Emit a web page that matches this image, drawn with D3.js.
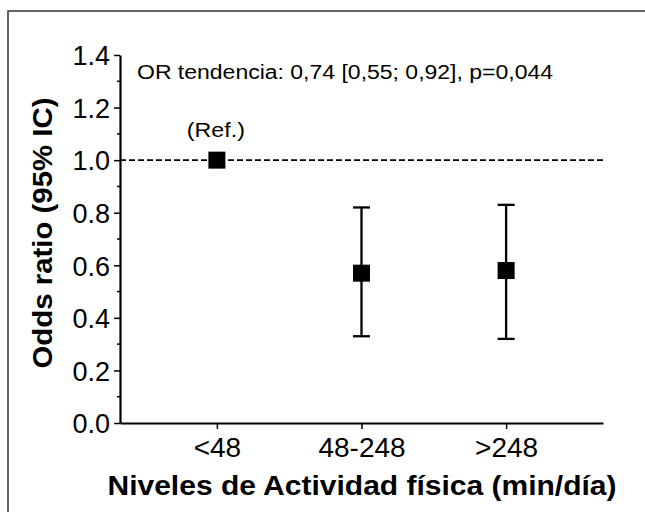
<!DOCTYPE html>
<html>
<head>
<meta charset="utf-8">
<script src="https://cdn.jsdelivr.net/npm/d3@7"></script>
<style>
  body { margin: 0; background: #fff; }
  text { font-family: "Liberation Sans", Arial, sans-serif; fill: #000; }
</style>
</head>
<body>
<div id="chart"></div>
<script>
// data
var categories = ["<48", "48-248", ">248"];
var oddsRatio  = [1.00, 0.57, 0.58];
var ciLow      = [null, 0.33, 0.32];
var ciHigh     = [null, 0.82, 0.83];
var yTicks     = [0.0, 0.2, 0.4, 0.6, 0.8, 1.0, 1.2, 1.4];
var refLabel   = "(Ref.)";
var trendNote  = "OR tendencia: 0,74 [0,55; 0,92], p=0,044";

var W = 645, H = 512;
var margin = {top: 55, right: 42, bottom: 89, left: 120};

var svg = d3.select("#chart").append("svg")
  .attr("width", W).attr("height", H);

// outer frame (runs off the right and bottom edge)
svg.append("rect")
  .attr("x", 8).attr("y", 11)
  .attr("width", W).attr("height", H)
  .attr("fill", "none").attr("stroke", "#333").attr("stroke-width", 1.5);

var x = d3.scalePoint().domain(categories)
  .range([margin.left, W - margin.right]).padding(0.67);
var y = d3.scaleLinear().domain([0, 1.4])
  .range([H - margin.bottom, margin.top]);

var g = svg.append("g");

// minor ticks on y
g.selectAll(".minor").data(d3.range(0.1, 1.4, 0.2))
  .enter().append("line")
  .attr("x1", margin.left - 3).attr("x2", margin.left)
  .attr("y1", function(d) { return y(d); }).attr("y2", function(d) { return y(d); })
  .attr("stroke", "#000").attr("stroke-width", 1.5);

var yAxis = g.append("g")
  .attr("transform", "translate(" + margin.left + ",0)")
  .call(d3.axisLeft(y).tickValues(yTicks).tickFormat(d3.format(".1f")).tickSize(6).tickSizeOuter(0));
yAxis.select(".domain").attr("stroke-width", 2.2);
yAxis.selectAll(".tick line").attr("stroke-width", 1.5);
yAxis.selectAll("text").attr("font-size", 27)
  .attr("x", -10).attr("dy", "0.36em");

var xAxis = g.append("g")
  .attr("transform", "translate(0," + y(0) + ")")
  .call(d3.axisBottom(x).tickSize(6).tickSizeOuter(0));
xAxis.select(".domain").attr("stroke-width", 2.2);
xAxis.selectAll(".tick line").attr("stroke-width", 1.5);
xAxis.selectAll("text").attr("font-size", 28)
  .attr("y", 34).attr("dy", 0);

// reference line at OR = 1
g.append("line")
  .attr("x1", margin.left).attr("x2", W - margin.right)
  .attr("y1", y(1)).attr("y2", y(1))
  .attr("stroke", "#000").attr("stroke-width", 1.8)
  .attr("stroke-dasharray", "6,3");

// error bars
var idx = d3.range(categories.length).filter(function(i) { return ciLow[i] != null; });
var cap = 8.5;
var eb = g.selectAll(".eb").data(idx).enter().append("g");
eb.append("line")
  .attr("x1", function(i) { return x(categories[i]); })
  .attr("x2", function(i) { return x(categories[i]); })
  .attr("y1", function(i) { return y(ciLow[i]); })
  .attr("y2", function(i) { return y(ciHigh[i]); })
  .attr("stroke", "#000").attr("stroke-width", 2.3);
["lo", "hi"].forEach(function(k) {
  eb.append("line")
    .attr("x1", function(i) { return x(categories[i]) - cap; })
    .attr("x2", function(i) { return x(categories[i]) + cap; })
    .attr("y1", function(i) { return y(k == "lo" ? ciLow[i] : ciHigh[i]); })
    .attr("y2", function(i) { return y(k == "lo" ? ciLow[i] : ciHigh[i]); })
    .attr("stroke", "#000").attr("stroke-width", 2.3);
});

// points
var s = 17;
g.selectAll(".pt").data(oddsRatio).enter().append("rect")
  .attr("x", function(d, i) { return x(categories[i]) - s / 2; })
  .attr("y", function(d) { return y(d) - s / 2; })
  .attr("width", s).attr("height", s)
  .attr("fill", "#000");

// annotations
g.append("text")
  .attr("x", x(categories[0]) - 1).attr("y", y(1) - 23)
  .attr("text-anchor", "middle").attr("font-size", 20)
  .attr("textLength", 58).attr("lengthAdjust", "spacingAndGlyphs")
  .text(refLabel);

g.append("text")
  .attr("x", 137).attr("y", 79)
  .attr("font-size", 20)
  .attr("textLength", 416).attr("lengthAdjust", "spacingAndGlyphs")
  .text(trendNote);

// axis titles
svg.append("text")
  .attr("x", 362).attr("y", 495)
  .attr("text-anchor", "middle").attr("font-size", 27).attr("font-weight", "bold")
  .attr("textLength", 509).attr("lengthAdjust", "spacingAndGlyphs")
  .text("Niveles de Actividad física (min/día)");

svg.append("text")
  .attr("transform", "translate(52," + 233 + ") rotate(-90)")
  .attr("text-anchor", "middle").attr("font-size", 27).attr("font-weight", "bold")
  .attr("textLength", 271).attr("lengthAdjust", "spacingAndGlyphs")
  .text("Odds ratio (95% IC)");
</script>
</body>
</html>
